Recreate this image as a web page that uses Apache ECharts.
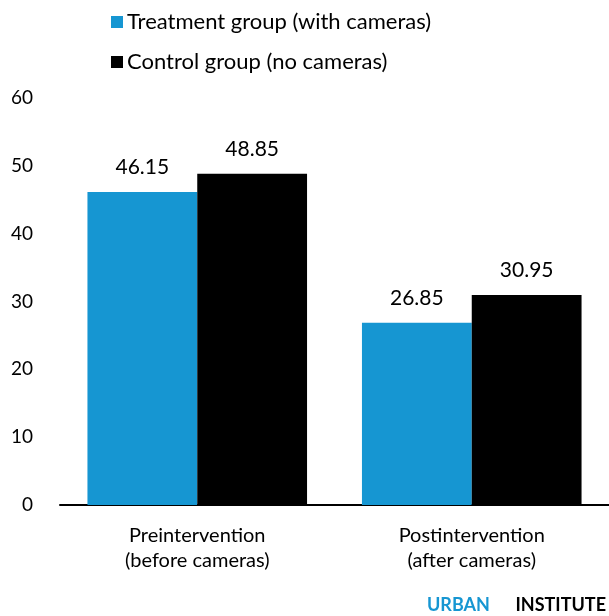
<!DOCTYPE html>
<html>
<head>
<meta charset="utf-8">
<style>
  html, body { margin: 0; padding: 0; background: #fff; }
  #chart { width: 609px; height: 616px; }
</style>
<script src="https://cdn.jsdelivr.net/npm/echarts@6/dist/echarts.min.js"></script>
</head>
<body>
<div id="chart"></div>
<script>
// Crime counts before and after camera installation
var categories = ['Preintervention\n(before cameras)', 'Postintervention\n(after cameras)'];
var treatmentValues = [46.15, 26.85];
var controlValues = [48.85, 30.95];
var seriesNames = ['Treatment group (with cameras)', 'Control group (no cameras)'];
var yTicks = { min: 0, max: 60, interval: 10 };

var FONT = 'Lato, "Noto Sans", sans-serif';
var chart = echarts.init(document.getElementById('chart'), null, { renderer: 'canvas' });

var valueLabel = {
  show: true,
  position: 'top',
  distance: 14,
  color: '#000',
  fontFamily: FONT,
  fontSize: 21
};

chart.setOption({
  animation: false,
  textStyle: { fontFamily: FONT },
  legend: {
    orient: 'vertical',
    left: 106,
    top: 6,
    itemWidth: 12,
    itemHeight: 12,
    itemGap: 18,
    icon: 'rect',
    textStyle: { fontFamily: FONT, fontSize: 22, color: '#000', padding: [0, 0, 0, -1] },
    data: seriesNames
  },
  grid: { left: 60, right: 0, top: 98, bottom: 111, containLabel: false },
  xAxis: {
    type: 'category',
    data: categories,
    axisLine: { show: true, lineStyle: { color: '#000', width: 2 } },
    axisTick: { show: false },
    axisLabel: {
      color: '#000',
      fontFamily: FONT,
      fontSize: 20,
      lineHeight: 25,
      margin: 18
    }
  },
  yAxis: {
    type: 'value',
    min: yTicks.min,
    max: yTicks.max,
    interval: yTicks.interval,
    axisLine: { show: false },
    axisTick: { show: false },
    splitLine: { show: false },
    axisLabel: {
      color: '#000',
      fontFamily: FONT,
      fontSize: 19,
      margin: 27
    }
  },
  series: [
    {
      name: seriesNames[0],
      type: 'bar',
      data: treatmentValues,
      itemStyle: { color: '#1696d2' },
      barGap: '0%',
      barCategoryGap: '20%',
      label: valueLabel
    },
    {
      name: seriesNames[1],
      type: 'bar',
      data: controlValues,
      itemStyle: { color: '#000000' },
      label: valueLabel
    }
  ],
  graphic: [
    {
      type: 'text',
      left: 427,
      bottom: 2,
      style: { text: 'URBAN', fill: '#1696d2', font: 'bold 18px ' + FONT }
    },
    {
      type: 'text',
      right: 3,
      bottom: 2,
      style: { text: 'INSTITUTE', fill: '#000', font: 'bold 18px ' + FONT }
    }
  ]
});
</script>
</body>
</html>
